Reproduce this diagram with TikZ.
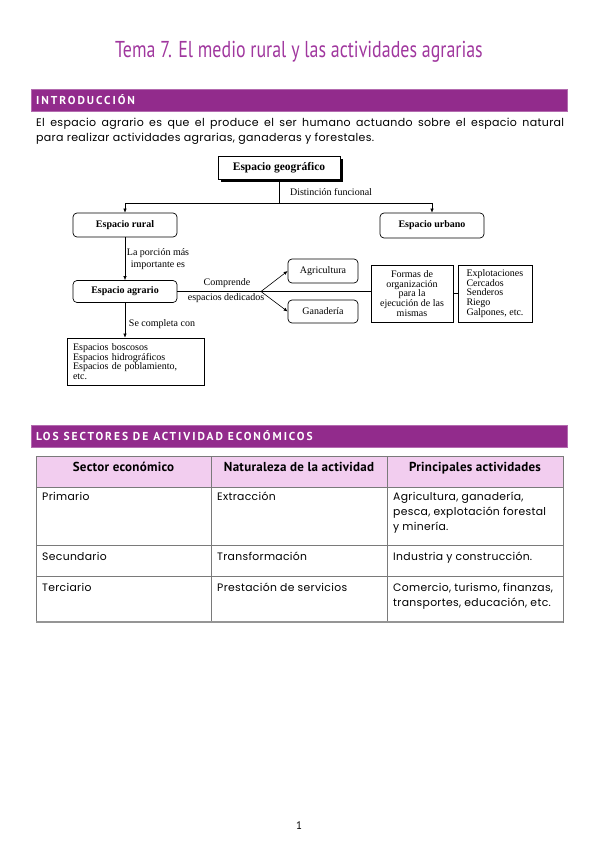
\documentclass[tikz,border=0pt]{standalone}
\usepackage{fontspec}
\setmainfont{Liberation Serif}
\newfontfamily\gotica[LetterSpace=3]{Poppins}
\newfontfamily\humana{PT Sans}
\newfontfamily\cabfont[LetterSpace=2]{PT Sans}
\newfontfamily\franja[LetterSpace=17]{PT Sans}
\newfontfamily\titulo[FakeStretch=0.78]{PT Sans}
\usetikzlibrary{positioning,arrows.meta,shadows}
\definecolor{morado}{HTML}{922B8C}
\definecolor{moradotit}{HTML}{A0379E}
\definecolor{rosa}{HTML}{F2CDEF}
\definecolor{rejilla}{HTML}{7A7A7A}
\tikzset{
  band/.style={fill=morado, draw=morado!70, minimum width=536pt, minimum height=22pt,
               inner sep=0pt, anchor=north west},
  bandtext/.style={text=white, font=\franja\bfseries\fontsize{11.5}{12}\selectfont,
               anchor=base west, inner sep=0pt},
  rbox/.style={draw, rounded corners=4pt, line width=0.7pt, inner sep=0pt,
               font=\bfseries\fontsize{10}{10}\selectfont},
  sbox/.style={draw, line width=0.7pt, inner sep=0pt,
               font=\fontsize{10}{9.8}\selectfont},
  lbl/.style={inner sep=0pt, align=center, font=\fontsize{10}{11.5}\selectfont},
  flecha/.style={-{Latex[length=4pt,width=3.5pt]}, line width=0.6pt},
  linea/.style={line width=0.6pt},
  celda/.style={inner sep=0pt, anchor=base west, align=left,
               font=\gotica\fontsize{10.8}{15}\selectfont},
  cabecera/.style={inner sep=0pt, anchor=base, font=\cabfont\bfseries\fontsize{13}{14}\selectfont}
}
\begin{document}
\begin{tikzpicture}[x=1pt,y=-1pt]
    \useasboundingbox (0,0) rectangle (599,848);

    % titulo
    \node[text=moradotit, font=\titulo\fontsize{23}{26}\selectfont] (titulo) at (299,52)
        {Tema 7. El medio rural y las actividades agrarias};

    % introduccion
    \node[band] (intro) at (31,89) {};
    \node[bandtext] (introtxt) at (36,104.5) {INTRODUCCIÓN};
    \node[inner sep=0pt, anchor=base west, text width=528pt, align=justify,
          font=\gotica\fontsize{11}{16}\selectfont] (parrafo) at (36,126)
        {El espacio agrario es que el produce el ser humano actuando sobre el espacio natural\linebreak
         para realizar actividades agrarias, ganaderas y forestales.};

    % esquema
    \node[sbox, minimum width=122pt, minimum height=23pt,
          font=\bfseries\fontsize{11.5}{12}\selectfont,
          drop shadow={shadow xshift=2.5pt, shadow yshift=-2.5pt, fill=black, opacity=1},
          fill=white] (geo) at (279,168) {Espacio geográfico};
    \node[rbox, minimum width=104pt, minimum height=24pt] (rural)  at (125,225)   {Espacio rural};
    \node[rbox, minimum width=104pt, minimum height=25pt] (urbano) at (432,225.5) {Espacio urbano};
    \node[rbox, minimum width=104pt, minimum height=22pt] (agrario) at (125,291.5) {Espacio agrario};
    \node[rbox, minimum width=70pt, minimum height=24pt, font=\fontsize{10}{10}\selectfont]
        (agri) at (323,271) {Agricultura};
    \node[rbox, minimum width=70pt, minimum height=23pt, font=\fontsize{10}{10}\selectfont]
        (gana) at (323,311.5) {Ganadería};
    \node[sbox, minimum width=82pt, minimum height=57pt, align=center]
        (formas) at (412,293.5) {Formas de\\organización\\para la\\ejecución de las\\mismas};
    \node[sbox, minimum width=74pt, minimum height=57pt, align=left]
        (obras) at (495,293.5) {Explotaciones\\Cercados\\Senderos\\Riego\\Galpones, etc.};
    \node[sbox, minimum width=137pt, minimum height=47pt, align=left, text width=125pt]
        (otros) at (135.5,361.5) {Espacios boscosos\\Espacios hidrográficos\\Espacios de poblamiento,\\etc.};

    \coordinate (reparto) at (geo.south |- 0,203);
    \coordinate (bifurca) at (261,291.5);

    \draw[linea] (geo) -- (reparto);
    \draw[flecha] (reparto) -| (rural.north);
    \draw[flecha] (reparto) -| (urbano.north);
    \draw[flecha] (rural) -- (agrario);
    \draw[linea] (agrario.east) -- (agrario.east -| formas.west);
    \draw[flecha] (bifurca) -- (agri.west);
    \draw[flecha] (bifurca) -- (gana.west);
    \draw[linea] (formas) -- (obras);
    \draw[flecha] (agrario) -- (agrario |- otros.north);

    \node[lbl] (distincion) at (331,192) {Distinción funcional};
    \node[lbl] (porcion) at (158,259) {La porción más\\importante es};
    \node[lbl] (comprende) at (227,283) {Comprende};
    \node[lbl] (dedicados) at (226,298) {espacios dedicados};
    \node[lbl] (completa) at (162,324) {Se completa con};

    % sectores
    \node[band] (sectores) at (31,425) {};
    \node[bandtext] (sectorestxt) at (36,440.5) {LOS SECTORES DE ACTIVIDAD ECONÓMICOS};

    \fill[rosa] (36,456) rectangle (563,487);
    \draw[rejilla, line width=0.8pt] (36,456) rectangle (563,622);
    \foreach \y in {487,545,576}
        \draw[rejilla, line width=0.8pt] (36,\y) -- (563,\y);
    \foreach \x in {211,387}
        \draw[rejilla, line width=0.8pt] (\x,456) -- (\x,622);
    \draw[rejilla!80, line width=2pt] (36,622) -- (563,622);

    \node[cabecera] (cab1) at (123.5,471) {Sector económico};
    \node[cabecera] (cab2) at (299,471) {Naturaleza de la actividad};
    \node[cabecera] (cab3) at (475,471) {Principales actividades};

    \node[celda] (prim1) at (42,500) {Primario};
    \node[celda] (prim2) at (217,500) {Extracción};
    \node[celda] (prim3) at (393,530) {Agricultura, ganadería,\\pesca, explotación forestal\\y minería.};
    \node[celda] (sec1) at (42,560) {Secundario};
    \node[celda] (sec2) at (217,560) {Transformación};
    \node[celda] (sec3) at (393,560) {Industria y construcción.};
    \node[celda] (ter1) at (42,591) {Terciario};
    \node[celda] (ter2) at (217,591) {Prestación de servicios};
    \node[celda] (ter3) at (393,606) {Comercio, turismo, finanzas,\\transportes, educación, etc.};

    % pagina
    \node[font=\humana\fontsize{11}{12}\selectfont] (pagina) at (299,826) {1};
\end{tikzpicture}
\end{document}
